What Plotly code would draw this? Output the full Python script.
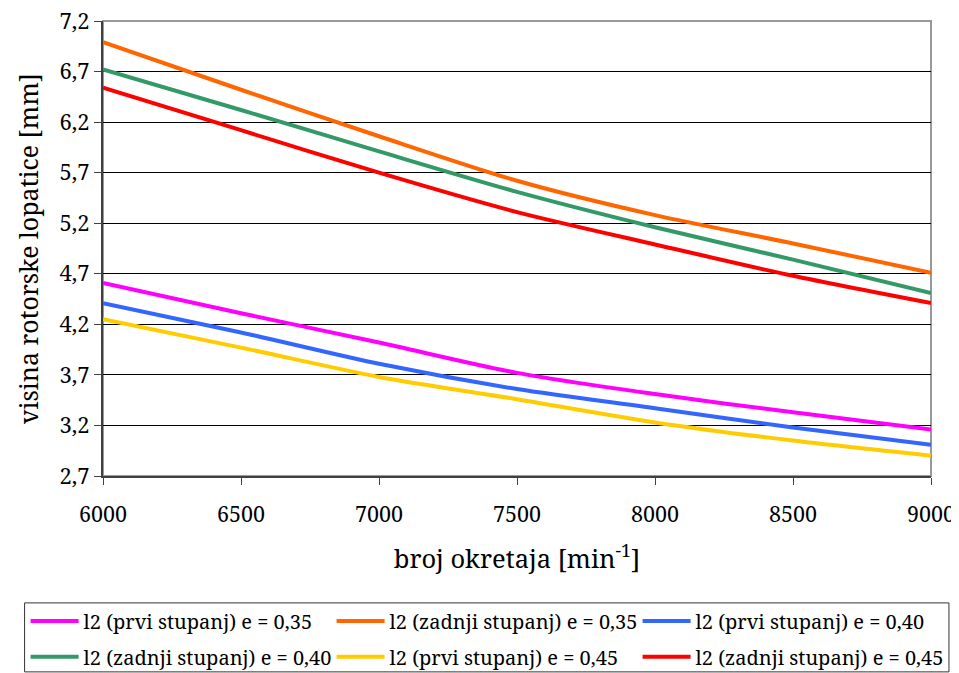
import plotly.graph_objects as go

# ---- data ----
rpm = [6000, 6500, 7000, 7500, 8000, 8500, 9000]

prvi_035 = [4.61, 4.31, 4.02, 3.72, 3.51, 3.33, 3.16]
zadnji_035 = [6.99, 6.52, 6.06, 5.62, 5.28, 5.00, 4.71]
prvi_040 = [4.41, 4.12, 3.81, 3.56, 3.37, 3.18, 3.01]
zadnji_040 = [6.72, 6.32, 5.91, 5.51, 5.16, 4.84, 4.51]
prvi_045 = [4.25, 3.97, 3.68, 3.46, 3.23, 3.05, 2.90]
zadnji_045 = [6.54, 6.12, 5.70, 5.31, 4.99, 4.68, 4.41]

series_names = [
    "l2 (prvi stupanj) e = 0,35",
    "l2 (zadnji stupanj) e = 0,35",
    "l2 (prvi stupanj) e = 0,40",
    "l2 (zadnji stupanj) e = 0,40",
    "l2 (prvi stupanj) e = 0,45",
    "l2 (zadnji stupanj) e = 0,45",
]
series_values = [prvi_035, zadnji_035, prvi_040, zadnji_040, prvi_045, zadnji_045]
series_colors = ["#FF00FF", "#FF6600", "#3366FF", "#339966", "#FFCC00", "#FF0000"]
# legend row of each series (row 1 / row 2, as in the reference legend)
series_legend = ["legend", "legend", "legend", "legend2", "legend2", "legend2"]

x_tickvals = [6000, 6500, 7000, 7500, 8000, 8500, 9000]
x_ticktext = ["6000", "6500", "7000", "7500", "8000", "8500", "9000"]
y_tickvals = [2.7, 3.2, 3.7, 4.2, 4.7, 5.2, 5.7, 6.2, 6.7, 7.2]
y_ticktext = ["2,7", "3,2", "3,7", "4,2", "4,7", "5,2", "5,7", "6,2", "6,7", "7,2"]

FONT = "Noto Serif"

fig = go.Figure()
for name, vals, col, lg in zip(series_names, series_values, series_colors, series_legend):
    fig.add_trace(go.Scatter(
        x=rpm, y=vals, name=name, mode="lines", legend=lg,
        line=dict(color=col, width=4, shape="spline", smoothing=0.8),
    ))

legend_common = dict(
    orientation="h",
    x=-0.0935, xanchor="left", yanchor="middle",
    borderwidth=0, bgcolor="rgba(0,0,0,0)",
    font=dict(family=FONT, size=20, color="black"),
    entrywidth=243, entrywidthmode="pixels",
    itemwidth=48,
    traceorder="normal",
)

# page body has an 8px margin, so the figure is 951x665 placed at (8, 8)
fig.update_layout(
    width=951, height=665,
    margin=dict(l=94.5, r=28, t=12.7, b=197, autoexpand=False),
    paper_bgcolor="white", plot_bgcolor="white",
    font=dict(family=FONT, size=22, color="black"),
    showlegend=True,
    legend=dict(legend_common, y=-0.3185),
    legend2=dict(legend_common, y=-0.3975),
    shapes=[
        dict(type="rect", xref="paper", yref="paper", x0=0, x1=1, y0=0, y1=1,
             line=dict(color="#999999", width=2), layer="below"),
        dict(type="rect", xref="paper", yref="paper", x0=-0.0947, x1=1.0217,
             y0=-0.4305, y1=-0.2789, line=dict(color="#333333", width=1),
             fillcolor="rgba(0,0,0,0)", layer="below"),
    ],
)

fig.update_xaxes(
    range=[6000, 9000],
    tickvals=x_tickvals, ticktext=x_ticktext,
    ticks="outside", ticklen=7, tickcolor="#404040", tickwidth=1,
    showline=True, linecolor="#404040", linewidth=2,
    showgrid=False, zeroline=False,
    tickfont=dict(family=FONT, size=21.5),
    ticklabelstandoff=11,
    ticklabeloverflow="allow",
    title=dict(text="broj okretaja [min<sup>-1</sup>]", font=dict(family=FONT, size=25.5), standoff=23),
)
fig.update_yaxes(
    range=[2.7, 7.2],
    tickvals=y_tickvals, ticktext=y_ticktext,
    ticks="outside", ticklen=7, tickcolor="#404040", tickwidth=1,
    showline=True, linecolor="#404040", linewidth=2,
    showgrid=True, gridcolor="#000000", gridwidth=1,
    zeroline=False,
    tickfont=dict(family=FONT, size=22),
    ticklabeloverflow="allow",
    title=dict(text="visina rotorske lopatice [mm]", font=dict(family=FONT, size=25), standoff=14),
)

fig.write_html("out.html")
